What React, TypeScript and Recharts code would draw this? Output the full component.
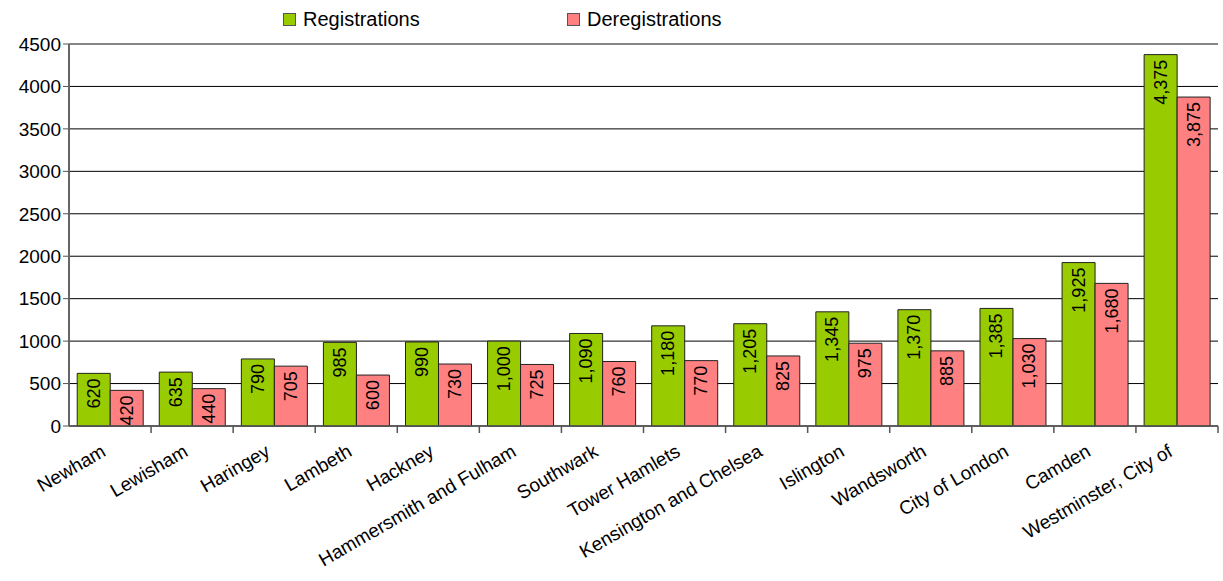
import React from "react"
import { Bar, BarChart, CartesianGrid, LabelList, ReferenceLine, XAxis, YAxis } from "recharts"

const boroughs = [
  "Newham",
  "Lewisham",
  "Haringey",
  "Lambeth",
  "Hackney",
  "Hammersmith and Fulham",
  "Southwark",
  "Tower Hamlets",
  "Kensington and Chelsea",
  "Islington",
  "Wandsworth",
  "City of London",
  "Camden",
  "Westminster, City of",
]
const registrations = [620, 635, 790, 985, 990, 1000, 1090, 1180, 1205, 1345, 1370, 1385, 1925, 4375]
const deregistrations = [420, 440, 705, 600, 730, 725, 760, 770, 825, 975, 885, 1030, 1680, 3875]
const yTicks = [0, 500, 1000, 1500, 2000, 2500, 3000, 3500, 4000, 4500]

const data = boroughs.map((name, i) => ({
  name,
  registrations: registrations[i],
  deregistrations: deregistrations[i],
}))

const FONT = "'Liberation Sans', Arial, sans-serif"
const W = 1223
const H = 581
const LEFT = 9
const YW = 60
const RIGHT = 5
const STEP = (W - LEFT - YW - RIGHT) / boroughs.length

function XTick(props: any) {
  const { x, y, payload } = props
  const ax = x - 3
  const ay = y + 21
  return (
    <g>
      <line x1={x + STEP / 2} y1={y - 8} x2={x + STEP / 2} y2={y - 1} stroke="#555" strokeWidth={1.5} />
      <text
        x={ax}
        y={ay}
        transform={`rotate(-30, ${ax}, ${ay})`}
        textAnchor="end"
        fontSize={19}
        fontFamily={FONT}
        fill="#000"
      >
        {payload.value}
      </text>
    </g>
  )
}

function BarLabel(props: any) {
  const { x, y, width, value } = props
  const cx = x + width / 2
  const ty = y + 5
  return (
    <text
      x={cx}
      y={ty}
      transform={`rotate(-90, ${cx}, ${ty})`}
      textAnchor="end"
      dominantBaseline="central"
      fontSize={18}
      fontFamily={FONT}
      fill="#000"
    >
      {Number(value).toLocaleString("en-US")}
    </text>
  )
}

function LegendBox() {
  const item = (color: string, label: string, width: number) => (
    <div style={{ display: "flex", alignItems: "center", width }}>
      <span
        style={{
          display: "inline-block",
          width: 11,
          height: 11,
          background: color,
          border: "1px solid #555",
          marginRight: 7,
        }}
      />
      <span>{label}</span>
    </div>
  )
  return (
    <div
      style={{
        position: "absolute",
        left: 283,
        top: 8,
        display: "flex",
        fontFamily: FONT,
        fontSize: 20,
        color: "#000",
      }}
    >
      {item("#99CC00", "Registrations", 284)}
      {item("#FF8080", "Deregistrations", 200)}
    </div>
  )
}

export default function App() {
  return (
    <div style={{ position: "absolute", left: 0, top: 0, width: W, height: H, background: "#fff" }}>
      <BarChart
        width={W}
        height={H}
        data={data}
        margin={{ top: 44, right: RIGHT, left: LEFT, bottom: 0 }}
        barCategoryGap="10%"
        barGap={0}
      >
        <CartesianGrid vertical={false} stroke="#000" strokeWidth={1} />
        <ReferenceLine y={4500} stroke="#888" strokeWidth={1.5} />
        <XAxis
          dataKey="name"
          interval={0}
          tick={<XTick />}
          tickLine={false}
          axisLine={{ stroke: "#555", strokeWidth: 1.5 }}
          height={155}
        />
        <YAxis
          domain={[0, 4500]}
          ticks={yTicks}
          width={YW}
          tick={{ fontSize: 19, fontFamily: FONT, fill: "#000" }}
          tickSize={6}
          tickLine={{ stroke: "#555" }}
          axisLine={{ stroke: "#666", strokeWidth: 2 }}
        />
        <Bar dataKey="registrations" fill="#99CC00" stroke="#222" strokeWidth={1} isAnimationActive={false}>
          <LabelList dataKey="registrations" content={<BarLabel />} />
        </Bar>
        <Bar dataKey="deregistrations" fill="#FF8080" stroke="#222" strokeWidth={1} isAnimationActive={false}>
          <LabelList dataKey="deregistrations" content={<BarLabel />} />
        </Bar>
      </BarChart>
      <LegendBox />
    </div>
  )
}
